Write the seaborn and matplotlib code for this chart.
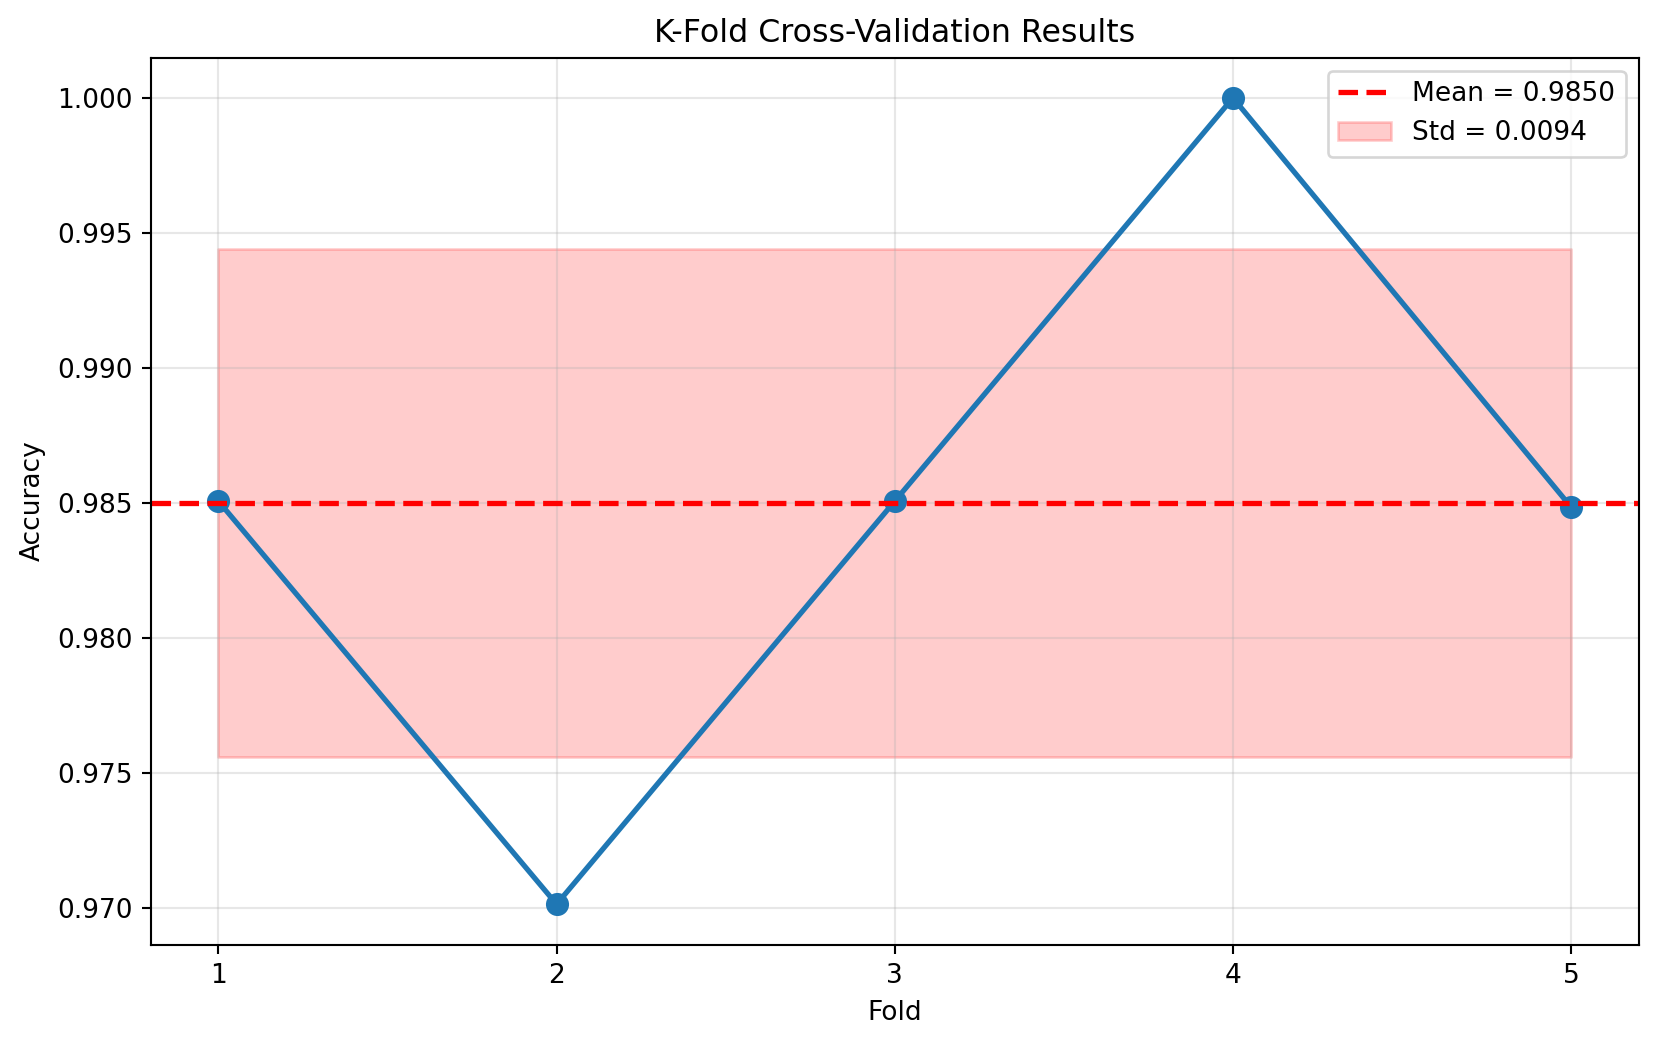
import numpy as np
import pandas as pd
import matplotlib
matplotlib.use("Agg")
import matplotlib.pyplot as plt
import seaborn as sns

folds = [1, 2, 3, 4, 5]
accuracy = [0.98507, 0.97015, 0.98507, 1.00000, 0.98485]
mean_acc = 0.9850
std_acc = 0.0094

DPI = 190

df = pd.DataFrame({"Fold": folds, "Accuracy": accuracy})

fig, ax = plt.subplots(figsize=(1657 / DPI, 1046 / DPI), dpi=DPI)

sns.lineplot(data=df, x="Fold", y="Accuracy", ax=ax, marker="o", markersize=8,
             linewidth=2, color="#1f77b4", markeredgecolor="#1f77b4")
ax.axhline(mean_acc, color="red", linestyle="--", linewidth=2,
           label=f"Mean = {mean_acc:.4f}")
ax.fill_between(folds, mean_acc - std_acc, mean_acc + std_acc, color="red",
                alpha=0.2, label=f"Std = {std_acc:.4f}")

ax.set_title("K-Fold Cross-Validation Results")
ax.set_xlabel("Fold")
ax.set_ylabel("Accuracy")
ax.set_xticks(folds)
ax.grid(True, alpha=0.3)
ax.legend(loc="upper right")

plt.subplots_adjust(left=0.091, right=0.989, top=0.945, bottom=0.097)
plt.savefig("out.png", dpi=DPI)
